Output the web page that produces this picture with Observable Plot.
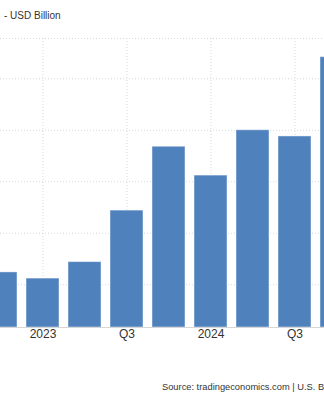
<!DOCTYPE html>
<html>
<head>
<meta charset="utf-8">
<script src="https://cdn.jsdelivr.net/npm/d3@7"></script>
<script src="https://cdn.jsdelivr.net/npm/@observablehq/plot@0.6"></script>
<style>
  html, body { margin: 0; padding: 0; background: #fff; width: 324px; height: 400px; overflow: hidden; }
  body { font-family: "Liberation Sans", Arial, sans-serif; position: relative; }
  #title { position: absolute; left: 4px; top: 10px; font-size: 10px; color: #333; white-space: nowrap; }
  #chart { position: absolute; left: 0; top: 30px; }
  #caption { position: absolute; left: 162px; top: 382px; font-size: 9.3px; color: #333; white-space: nowrap; }
</style>
</head>
<body>
<div id="title">- USD Billion</div>
<div id="chart"></div>
<div id="caption">Source: tradingeconomics.com | U.S. Bureau of Economic Analysis</div>
<script>
const quarters = ["2022 Q4", "2023 Q1", "2023 Q2", "2023 Q3", "2023 Q4", "2024 Q1", "2024 Q2", "2024 Q3", "2024 Q4"];
const values = [212, 206, 222, 272, 334, 306, 350, 344, 421];
const tickQuarters = ["2023 Q1", "2023 Q3", "2024 Q1", "2024 Q3"];
const tickLabels = ["2023", "Q3", "2024", "Q3"];
const gridValues = [200, 250, 300, 350, 400];
const yMin = 158.5;
const yMax = 439.1;

const data = quarters.map((q, i) => ({quarter: q, value: values[i]}));
const ticks = tickQuarters.map((q, i) => ({quarter: q, label: tickLabels[i]}));

const chart = Plot.plot({
  width: 324,
  height: 330,
  marginTop: 8,
  marginBottom: 33,
  marginLeft: 0,
  marginRight: 0,
  style: {overflow: "hidden", background: "transparent", fontFamily: "'Liberation Sans', Arial, sans-serif"},
  x: {type: "band", domain: quarters, range: [-26.9, 364], padding: 0.22, axis: null},
  y: {domain: [yMin, yMax], axis: null},
  marks: [
    Plot.ruleY(gridValues, {stroke: "#d9d9d9", strokeDasharray: "1,2"}),
    Plot.ruleY([yMax], {stroke: "#d9d9d9", strokeDasharray: "1,2"}),
    Plot.ruleX(ticks, {x: "quarter", stroke: "#d9d9d9", strokeDasharray: "1,2"}),
    Plot.barY(data, {x: "quarter", y1: () => yMin, y2: "value", fill: "#4f81bd", stroke: "#ffffff", strokeOpacity: 0.45, strokeWidth: 1}),
    Plot.ruleY([yMin], {stroke: "#d6d6d6"}),
    Plot.text(ticks, {x: "quarter", text: "label", frameAnchor: "bottom", dy: 10, fill: "#333", fontSize: 12})
  ]
});
document.getElementById("chart").appendChild(chart);
</script>
</body>
</html>
